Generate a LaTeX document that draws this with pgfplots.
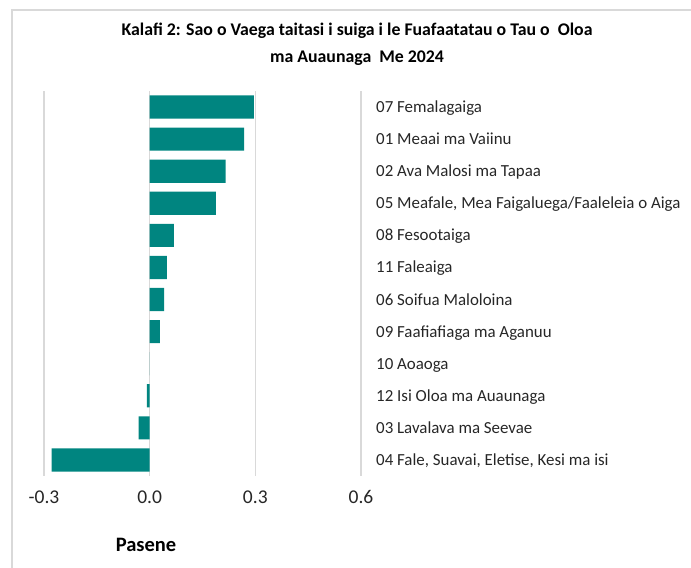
\documentclass[border=0pt]{standalone}
\usepackage{pgfplots}
\pgfplotsset{compat=1.18}
\usepackage{fontspec}
\setmainfont{Carlito}
\definecolor{barteal}{RGB}{0,133,128}
\definecolor{gridgray}{RGB}{217,217,217}
\begin{document}
\begin{tikzpicture}
\path[use as bounding box] (0,0) rectangle (691bp,568bp);
\draw[gridgray, line width=1.2bp] (12bp,0) -- (12bp,558bp) -- (691bp,558bp);
\node[font=\fontsize{17.8bp}{27bp}\selectfont\bfseries, align=center] at (357bp,523.5bp) {Kalafi 2: Sao o Vaega taitasi i suiga i le Fuafaatatau o Tau o\ \ Oloa\\ma Auaunaga\ \ Me 2024};
\begin{axis}[
  at={(44bp,92bp)}, anchor=south west,
  width=317bp, height=385bp, scale only axis,
  xmin=-0.3, xmax=0.6, ymin=-0.5, ymax=11.5, y dir=reverse,
  enlargelimits=false, clip=false,
  axis line style={draw=none},
  major tick length=0pt,
  xtick={-0.3,0,0.3,0.6},
  xticklabels={-0.3,0.0,0.3,0.6},
  xmajorgrids, major grid style={gridgray, line width=1.2bp},
  xticklabel style={font=\fontsize{19.5bp}{20bp}\selectfont, anchor=center, yshift=-21bp, text=black!85},
  ytick={0,...,11},
  yticklabels={07 Femalagaiga,01 Meaai ma Vaiinu,02 Ava Malosi ma Tapaa,{05 Meafale, Mea Faigaluega/Faaleleia o Aiga},08 Fesootaiga,11 Faleaiga,06 Soifua Maloloina,09 Faafiafiaga ma Aganuu,10 Aoaoga,12 Isi Oloa ma Auaunaga,03 Lavalava ma Seevae,{04 Fale, Suavai, Eletise, Kesi ma isi}},
  yticklabel pos=right,
  yticklabel style={anchor=base west, inner sep=0pt, xshift=15bp, yshift=-5.5bp, font=\fontsize{16.9bp}{18bp}\selectfont, text=black!85},
  xlabel={Pasene},
  xlabel style={at={(axis description cs:0.322,0)}, anchor=center, yshift=-69bp, font=\fontsize{20.5bp}{22bp}\selectfont\bfseries},
]
\addplot[xbar, bar width=0.72, fill=barteal, draw=none] coordinates {
  (0.296,0) (0.268,1) (0.216,2) (0.188,3) (0.069,4) (0.049,5)
  (0.041,6) (0.029,7) (0,8) (-0.008,9) (-0.031,10) (-0.278,11)
};
\end{axis}
\end{tikzpicture}
\end{document}
